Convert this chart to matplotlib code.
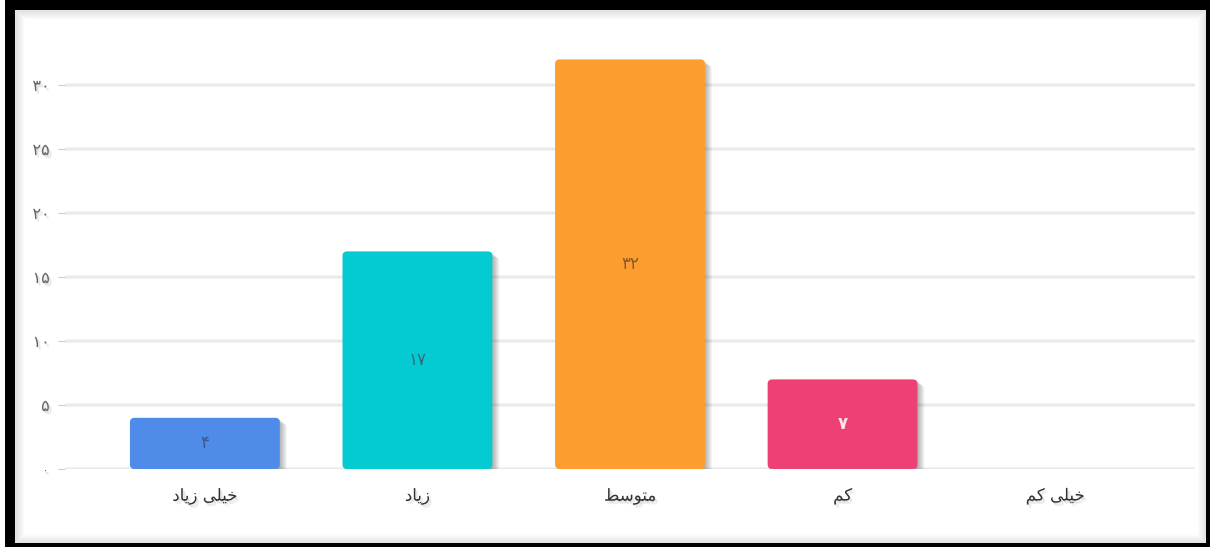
import matplotlib
matplotlib.use("Agg")
import matplotlib.pyplot as plt
import matplotlib.patheffects as pe
from matplotlib.patches import FancyBboxPatch, Rectangle

# ---- data -------------------------------------------------------------------
categories = ["خیلی زیاد", "زیاد", "متوسط", "کم", "خیلی کم"]
values = [4, 17, 32, 7, 0]
bar_colors = ["#4f8be9", "#04cad2", "#fd9d30", "#ed4075", "#999999"]
label_colors = ["#3a5a8c", "#2d6f73", "#8a5a22", "#fde3ea", "#555555"]
y_ticks = [0, 5, 10, 15, 20, 25, 30]

INK = "#333333"
INK_SOFT = "#666666"
GRID = "#e8e8e8"

# ---- minimal persian shaping (matplotlib has no text shaping) --------------
FORMS = {
    "خ": ("\uFEA5", "\uFEA6", "\uFEA7", "\uFEA8"),
    "ی": ("\uFBFC", "\uFBFD", "\uFBFE", "\uFBFF"),
    "ل": ("\uFEDD", "\uFEDE", "\uFEDF", "\uFEE0"),
    "م": ("\uFEE1", "\uFEE2", "\uFEE3", "\uFEE4"),
    "ت": ("\uFE95", "\uFE96", "\uFE97", "\uFE98"),
    "س": ("\uFEB1", "\uFEB2", "\uFEB3", "\uFEB4"),
    "ط": ("\uFEC1", "\uFEC2", "\uFEC3", "\uFEC4"),
    "ک": ("\uFB8E", "\uFB8F", "\uFB90", "\uFB91"),
    "ا": ("\uFE8D", "\uFE8E", None, None),
    "د": ("\uFEA9", "\uFEAA", None, None),
    "ز": ("\uFEAF", "\uFEB0", None, None),
    "و": ("\uFEED", "\uFEEE", None, None),
}


def dual(ch):
    return ch in FORMS and FORMS[ch][2] is not None


def shape(text):
    out = []
    for i, ch in enumerate(text):
        if ch not in FORMS:
            out.append(ch)
            continue
        iso, fin, ini, med = FORMS[ch]
        j_prev = i > 0 and dual(text[i - 1])
        j_next = dual(ch) and i + 1 < len(text) and text[i + 1] in FORMS
        if j_prev and j_next:
            out.append(med)
        elif j_prev:
            out.append(fin)
        elif j_next:
            out.append(ini)
        else:
            out.append(iso)
    return "".join(reversed(out))


def fa_num(n):
    return str(n).translate(str.maketrans("0123456789", "۰۱۲۳۴۵۶۷۸۹"))


def soft_shadow(dx, dy, steps=5, alpha=0.05):
    # stacked offset shadows to fake a blur
    fx = [pe.SimplePatchShadow(offset=(dx * k / steps, dy * k / steps),
                               shadow_rgbFace="black", alpha=alpha)
          for k in range(steps, 0, -1)]
    return fx + [pe.Normal()]


plt.rcParams["font.family"] = ["DejaVu Sans"]

W, H = 1210, 547
fig = plt.figure(figsize=(W / 100, H / 100), dpi=100, facecolor="white")


def frame_rect(x0, y0, x1, y1, **kw):
    # pixel box (y from top) -> figure fraction rectangle
    fig.patches.append(Rectangle((x0 / W, 1 - y1 / H), (x1 - x0) / W, (y1 - y0) / H,
                                 transform=fig.transFigure, zorder=0, **kw))


# black frame
frame_rect(5, 0, W, 10, facecolor="black", edgecolor="none")
frame_rect(5, 0, 15, H, facecolor="black", edgecolor="none")
frame_rect(1206, 0, W, H, facecolor="black", edgecolor="none")
frame_rect(5, 543, W, H, facecolor="black", edgecolor="none")
# soft inner shadow along the frame
for k in range(9):
    a = 0.09 * (1 - k / 9)
    frame_rect(15 + k, 10 + k, 1206 - k, 543 - k, facecolor="none",
               edgecolor=(0, 0, 0, a), linewidth=1)

ax = fig.add_axes([65 / W, 78 / H, 1130 / W, 448 / H])
ax.set_zorder(2)
ax.set_facecolor("none")
x = list(range(len(categories)))
bars = ax.bar(x, values, width=0.705, color="none")
ax.set_xlim(-0.658, 4.658)
ax.set_ylim(0, 35)

# gridlines with a faint shadow underneath
for t in y_ticks:
    ax.axhline(t, color="#f4f4f4", lw=3, zorder=0.5,
               path_effects=[pe.withSimplePatchShadow(offset=(0, -1.5), alpha=0.0)])
    ax.axhline(t, color=GRID, lw=1.3, zorder=0.6)

# rounded bars with a blurred drop shadow
ry = 0.35
rx = 0.022
for b, c, lc, v in zip(bars, bar_colors, label_colors, values):
    if v <= 0:
        continue
    p = FancyBboxPatch((b.get_x(), b.get_y()), b.get_width(), b.get_height(),
                       boxstyle=f"round,pad=0,rounding_size={rx}",
                       mutation_aspect=ry / rx, facecolor=c, edgecolor="none",
                       zorder=2, path_effects=soft_shadow(5, -4, 6, 0.05))
    ax.add_patch(p)
    ax.text(b.get_x() + b.get_width() / 2, v / 2, fa_num(v), ha="center",
            va="center", fontsize=12, color=lc, zorder=3,
            fontweight="bold" if c == "#ed4075" else "normal")

ax.set_yticks(y_ticks)
ax.set_yticklabels([fa_num(t) for t in y_ticks], fontsize=11.5, color=INK_SOFT)
ax.tick_params(axis="y", length=5, color="#cccccc", pad=6)
ax.set_xticks(x)
ax.set_xticklabels([shape(c) for c in categories], fontsize=12, color=INK)
ax.tick_params(axis="x", length=0, pad=13)
for lbl in ax.get_xticklabels() + ax.get_yticklabels():
    lbl.set_path_effects(soft_shadow(2, -2.5, 3, 0.06))
for s in ax.spines.values():
    s.set_visible(False)

fig.savefig("out.png", dpi=100, facecolor="white")
